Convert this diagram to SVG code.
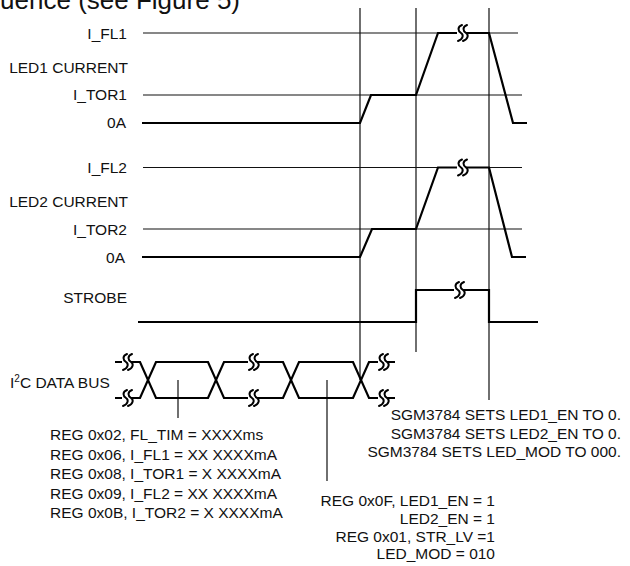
<svg xmlns="http://www.w3.org/2000/svg" xmlns:xlink="http://www.w3.org/1999/xlink" width="630" height="566" viewBox="0 0 630 566">
<style>
text{font-family:"Liberation Sans",Arial,sans-serif;font-size:15.5px;fill:#111}
.r{text-anchor:end}
.thin{stroke:#111;stroke-width:1.2;fill:none}
.wave{stroke:#000;stroke-width:2.2;fill:none;stroke-linejoin:miter}
.brk{stroke:#000;stroke-width:2;fill:none;stroke-linecap:round}
</style>
<defs>
<g id="brk">
<rect x="-5" y="-3" width="9" height="6" fill="#fff"/>
<path class="brk" d="M0,-8 C-5,-6 -4,-2 -1,0 C2,2 1,6 -4,8 M5,-8 C0,-6 1,-2 4,0 C7,2 6,6 1,8"/>
</g>
</defs>
<rect width="630" height="566" fill="#fff"/>
<text x="240" y="9" class="r" style="font-size:26px">Sequence (see Figure 5)</text>

<g id="markers">
<path class="thin" d="M360,8 V380 M416,8 V352 M489,8 V400"/>
<path class="thin" d="M178,380 V418 M327,380 V481"/>
</g>

<g id="led1">
<text x="127" y="39" class="r">I_FL1</text>
<text x="128" y="73" class="r">LED1 CURRENT</text>
<text x="127" y="100" class="r">I_TOR1</text>
<text x="126" y="128" class="r">0A</text>
<path class="thin" d="M143,33 H518 M143,95 H522"/>
<path class="wave" d="M142,123 H360 L371,95 H416 L438,33 H489 L513,123 H527"/>
<use xlink:href="#brk" x="462" y="33"/>
</g>

<g id="led2">
<text x="127" y="173" class="r">I_FL2</text>
<text x="128" y="207" class="r">LED2 CURRENT</text>
<text x="127" y="235" class="r">I_TOR2</text>
<text x="125" y="263" class="r">0A</text>
<path class="thin" d="M143,167.5 H522 M143,229 H522"/>
<path class="wave" d="M142,257 H360 L372,229 H416 L438,167.5 H489 L512,257 H526"/>
<use xlink:href="#brk" x="462" y="167.5"/>
</g>

<g id="strobe">
<text x="127" y="303" class="r">STROBE</text>
<path class="wave" d="M138,322 H416 V290 H489 V322 H538"/>
<use xlink:href="#brk" x="459" y="290"/>
</g>

<g id="bus">
<text x="10" y="388">I<tspan dy="-6" style="font-size:10px">2</tspan><tspan dy="6">C DATA BUS</tspan></text>
<path class="wave" d="M115,362 H140 L156,398 H208 L224,362 H283 L299,398 H353 L369,362 H395"/>
<path class="wave" d="M115,398 H140 L156,362 H208 L224,398 H283 L299,362 H353 L369,398 H395"/>
<use xlink:href="#brk" x="127" y="362"/>
<use xlink:href="#brk" x="127" y="398"/>
<use xlink:href="#brk" x="253" y="362"/>
<use xlink:href="#brk" x="253" y="398"/>
<use xlink:href="#brk" x="383" y="362"/>
<use xlink:href="#brk" x="383" y="398"/>
</g>

<g id="notes-reg">
<text x="50" y="440">REG 0x02, FL_TIM = XXXXms</text>
<text x="50" y="459.5">REG 0x06, I_FL1 = XX XXXXmA</text>
<text x="50" y="479">REG 0x08, I_TOR1 = X XXXXmA</text>
<text x="50" y="498.5">REG 0x09, I_FL2 = XX XXXXmA</text>
<text x="50" y="518">REG 0x0B, I_TOR2 = X XXXXmA</text>
</g>

<g id="notes-sgm">
<text x="621" y="420" class="r">SGM3784 SETS LED1_EN TO 0.</text>
<text x="621" y="438.5" class="r">SGM3784 SETS LED2_EN TO 0.</text>
<text x="621" y="457" class="r">SGM3784 SETS LED_MOD TO 000.</text>
</g>

<g id="notes-en">
<text x="495" y="506" class="r">REG 0x0F, LED1_EN = 1</text>
<text x="495" y="523.5" class="r">LED2_EN = 1</text>
<text x="495" y="541.5" class="r">REG 0x01, STR_LV =1</text>
<text x="495" y="559" class="r">LED_MOD = 010</text>
</g>
</svg>
